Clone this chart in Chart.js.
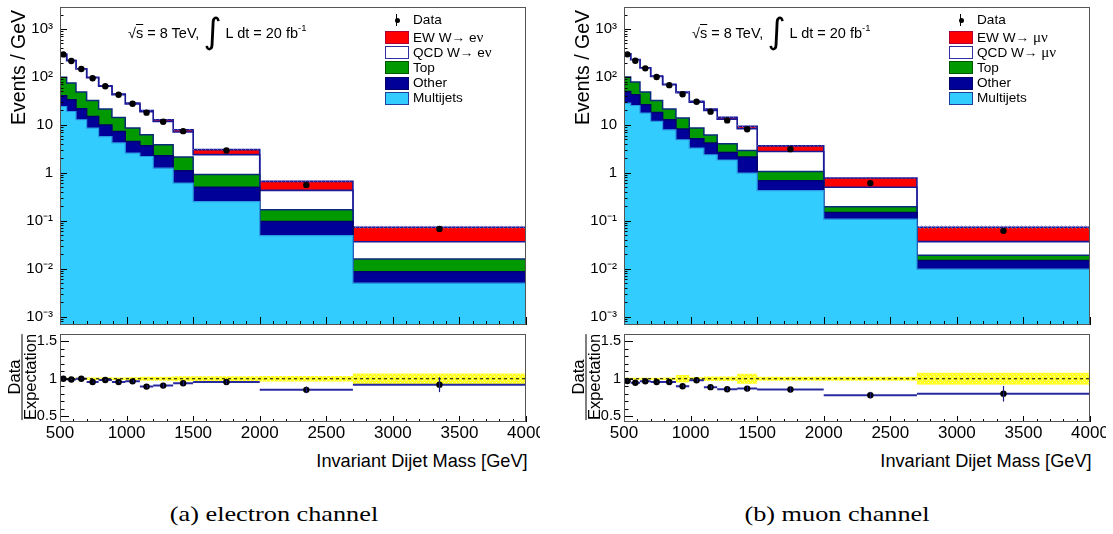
<!DOCTYPE html>
<html>
<head>
<meta charset="utf-8">
<script src="https://cdn.jsdelivr.net/npm/chart.js@4.4.1/dist/chart.umd.min.js"></script>
<style>
html,body{margin:0;padding:0;background:#fff;}
body{width:1113px;height:534px;position:relative;overflow:hidden;font-family:"Liberation Sans",Arial,Helvetica,sans-serif;color:#000;}
canvas{position:absolute;left:0;top:0;}
.abs{position:absolute;white-space:nowrap;}
.clip{position:absolute;overflow:hidden;}
</style>
</head>
<body>
<canvas id="eMain" width="560" height="330" style="left:0;top:0"></canvas>
<canvas id="mMain" width="553" height="330" style="left:560px;top:0"></canvas>
<div class="clip" style="left:0;top:330px;width:540px;height:120px"><canvas id="eRatio" width="560" height="120"></canvas></div>
<div class="clip" style="left:560px;top:330px;width:546px;height:120px"><canvas id="mRatio" width="553" height="120"></canvas></div>
<script>
// ---------------- data ----------------
const binEdges   = [500,550,620,700,790,890,990,1100,1200,1350,1500,2000,2700,4000];
const binCenters = [525,585,660,745,840,940,1045,1150,1275,1425,1750,2350,3350];

const xTickValues = [500,1000,1500,2000,2500,3000,3500,4000];
const xTickLabels = ['500','1000','1500','2000','2500','3000','3500','4000'];
const yTickValues = [0.001,0.01,0.1,1,10,100,1000];
const yTickLabels = ['10\u207B\u00B3','10\u207B\u00B2','10\u207B\u00B9','1','10','10\u00B2','10\u00B3'];
const ratioTickValues = [0.5,1,1.5];
const ratioTickLabels = ['0.5','1','1.5'];

// electron channel (events / GeV per bin)
const eMultijets = [24.2,19,12.8,8.6,5.7,4.2,2.58,2.19,1.25,0.61,0.25,0.049,0.005];
const eOther     = [16.3,14.4,8.9,6.4,4.3,3.1,1.92,1.47,1.01,0.49,0.25,0.047,0.0036];
const eTop       = [57.5,41.2,26.7,17.4,11.4,7.0,4.1,2.54,1.59,1.03,0.42,0.073,0.0074];
const eQCD       = [198,144,97.6,63.6,42.6,28.4,18.7,12.6,7.95,4.97,1.48,0.261,0.0205];
const eEW        = [2,2,2,2,1.5,1.3,1.2,1.2,1.0,0.8,0.65,0.233,0.037];
const eData      = [295,215,146,94,64,42.5,27.5,18,11.6,7.4,2.92,0.56,0.0677];
const eRatio     = [1.0,0.99,1.0,0.956,0.983,0.956,0.965,0.895,0.908,0.939,0.956,0.851,0.921];
const eRatioErr  = [0.006,0.007,0.008,0.01,0.012,0.014,0.017,0.02,0.024,0.03,0.03,0.045,0.1];
const eBand      = [0.013,0.013,0.013,0.018,0.018,0.018,0.02,0.026,0.026,0.033,0.033,0.037,0.07];

// muon channel
const mMultijets = [28.5,25.4,17.6,11.8,7.9,4.9,3.28,2.38,1.85,0.99,0.427,0.108,0.0098];
const mOther     = [21.3,17.1,8.7,6.4,4.9,3.3,1.85,1.79,0.8,1.14,0.253,0.040,0.005];
const mTop       = [50.2,35.8,22.1,14.2,8.6,5.7,3.45,2.0,1.38,0.8,0.38,0.047,0.0042];
const mQCD       = [203,149.7,105.6,69.6,47.5,33.2,21.1,13.8,9.17,5.37,1.73,0.305,0.0178];
const mEW        = [2,2,2,2,1.6,1.4,1.3,1.3,1.2,1.0,0.86,0.28,0.0367];
const mData      = [296,218,151,99.4,67.4,43.7,30.3,18.9,12.4,8.1,3.12,0.61,0.0616];
const mRatio     = [0.97,0.947,0.966,0.956,0.956,0.9,0.979,0.887,0.86,0.868,0.855,0.78,0.8];
const mRatioErr  = [0.006,0.007,0.008,0.01,0.012,0.014,0.017,0.02,0.024,0.03,0.03,0.045,0.105];
const mBand      = [0.013,0.013,0.013,0.013,0.018,0.05,0.02,0.03,0.03,0.066,0.026,0.026,0.08];

const eLegend = ['Data','EW W\u2192 e<span class="g">\u03BD</span>','QCD W\u2192 e<span class="g">\u03BD</span>','Top','Other','Multijets'];
const mLegend = ['Data','EW W\u2192 <span class="g">\u03BC\u03BD</span>','QCD W\u2192 <span class="g">\u03BC\u03BD</span>','Top','Other','Multijets'];
const captions = ['(a) electron channel','(b) muon channel'];

// ---------------- styles ----------------
const stackStyle = [
  {label:'Multijets', bg:'#33ccff', bc:'#2a9be0', bw:1.2, lb:'#2040a0'},
  {label:'Other',     bg:'#000099', bc:'#00006e', bw:1.5, lb:'#000066'},
  {label:'Top',       bg:'#009900', bc:'#0a2a7a', bw:1.5, lb:'#005500'},
  {label:'QCD',       bg:'#ffffff', bc:'#1a1a99', bw:1.6, lb:'#3030a0'},
  {label:'EW',        bg:'#ff0000', bc:'#1a1a99', bw:1.6, lb:'#b00030'}
];
Chart.defaults.font.family = '"Liberation Sans", Arial, sans-serif';

function makePattern(bg, fg, cells, size){
  const c = document.createElement('canvas'); c.width = c.height = size;
  const g = c.getContext('2d');
  if (bg){ g.fillStyle = bg; g.fillRect(0,0,size,size); }
  g.fillStyle = fg; cells.forEach(([x,y]) => g.fillRect(x,y,1,1));
  return g.createPattern(c,'repeat');
}
const yellowPat = makePattern('#ffff22','#ffffb0',[[0,0],[2,2]],4);
const hatchPat  = makePattern(null,'rgba(120,110,190,0.9)',[[0,0],[1,1],[2,2],[3,3]],4);

function levelsFrom(comps){
  const out = []; let acc = comps[0].map(() => 0);
  comps.forEach(c => { acc = acc.map((v,i) => v + c[i]); out.push(acc.slice()); });
  return out;
}
function stepPts(vals){ return binEdges.map((e,i) => ({x:e, y: vals[Math.min(i, vals.length-1)]})); }
function noPad(s){ s.paddingTop = 0; s.paddingBottom = 0; s.paddingLeft = 0; s.paddingRight = 0; }

// ---------------- plugins ----------------
const rootFrame = {
  id:'rootFrame',
  afterDatasetsDraw(chart, args, o){
    const {ctx, chartArea:a} = chart; const xs = chart.scales.x, ys = chart.scales.y;
    ctx.save(); ctx.strokeStyle = '#000'; ctx.lineWidth = 1; ctx.beginPath();
    for (let v = 500; v <= 4000; v += 100){
      const px = Math.round(xs.getPixelForValue(v)) + 0.5;
      const len = (v % 500 === 0) ? o.xMaj : o.xMin;
      ctx.moveTo(px, a.bottom); ctx.lineTo(px, a.bottom - len);
    }
    if (o.log){
      for (let d = -4; d <= 4; d++) for (let k = 1; k <= 9; k++){
        const v = k * Math.pow(10, d); if (v < ys.min || v > ys.max) continue;
        const py = Math.round(ys.getPixelForValue(v)) + 0.5;
        ctx.moveTo(a.left, py); ctx.lineTo(a.left + (k === 1 ? o.yMaj : o.yMin), py);
      }
    } else {
      for (let i = 5; i <= 16; i++){
        const v = i / 10; const py = Math.round(ys.getPixelForValue(v)) + 0.5;
        ctx.moveTo(a.left, py); ctx.lineTo(a.left + (i % 5 === 0 ? o.yMaj : o.yMin), py);
      }
    }
    ctx.stroke();
    ctx.strokeStyle = '#555';
    ctx.strokeRect(Math.round(a.left)+0.5, Math.round(a.top)+0.5, Math.round(a.right-a.left)-1, Math.round(a.bottom-a.top)-1);
    ctx.restore();
  }
};
const errorBars = {
  id:'errorBars',
  afterDatasetsDraw(chart){
    const {ctx, chartArea:a} = chart; const ys = chart.scales.y;
    ctx.save(); ctx.beginPath(); ctx.rect(a.left, a.top, a.right-a.left, a.bottom-a.top); ctx.clip();
    chart.data.datasets.forEach((ds, di) => {
      if (!ds.errorBars) return;
      const meta = chart.getDatasetMeta(di);
      meta.data.forEach((pt, i) => {
        const v = ds.data[i].y, e = ds.errorBars[i];
        const y1 = ys.getPixelForValue(v + e), y2 = ys.getPixelForValue(Math.max(v - e, ys.min));
        const x = Math.round(pt.x) + 0.5;
        ctx.strokeStyle = ds.errorColor || '#000'; ctx.lineWidth = 1.2;
        ctx.beginPath(); ctx.moveTo(x, y1); ctx.lineTo(x, y2); ctx.stroke();
      });
    });
    ctx.restore();
  }
};

// ---------------- builders ----------------
function buildMain(id, ch, yw, padRight){
  const comps = [ch.multijets, ch.other, ch.top, ch.qcd, ch.ew];
  const lv = levelsFrom(comps); const total = lv[4];
  const hi = total.map((v,i) => v * (1 + ch.band[i])), lo = total.map((v,i) => v * (1 - ch.band[i]));
  const dErr = ch.data.map((v,i) => v * ch.ratioErr[i] / ch.ratio[i]);
  const datasets = [
    {label:'Data', data: binCenters.map((x,i) => ({x, y: ch.data[i]})), showLine:false,
     pointRadius:3.2, pointBackgroundColor:'#000', pointBorderWidth:0, errorBars: dErr},
    {label:'bandHi', data: stepPts(hi), stepped:true, borderColor:'rgba(0,0,0,0)', borderWidth:1,
     pointRadius:0, fill:'+1', backgroundColor: hatchPat},
    {label:'bandLo', data: stepPts(lo), stepped:true, borderColor:'rgba(0,0,0,0)', borderWidth:1,
     pointRadius:0, fill:false}
  ];
  stackStyle.forEach((s, k) => {
    datasets.push({label:s.label, data: stepPts(lv[k]), stepped:true, fill:'start',
      backgroundColor:s.bg, borderColor:s.bc, borderWidth:s.bw, pointRadius:0});
  });
  return new Chart(document.getElementById(id), {
    type:'line', data:{datasets}, plugins:[rootFrame, errorBars],
    options:{
      responsive:false, animation:false, events:[],
      layout:{padding:{top:7, right:padRight, bottom:5, left:0}},
      plugins:{legend:{display:false}, tooltip:{enabled:false},
               rootFrame:{log:true, xMaj:8, xMin:4, yMaj:7, yMin:3.5}},
      scales:{
        x:{type:'linear', min:500, max:4000, display:false},
        y:{type:'logarithmic', min:6.7e-4, max:2876,
           afterBuildTicks: s => { s.ticks = yTickValues.map(v => ({value:v})); },
           afterFit: s => { s.width = yw; noPad(s); },
           ticks:{callback:(v,i) => yTickLabels[i], color:'#000', font:{size:15}, padding:7},
           grid:{display:false, drawTicks:false}, border:{display:false}}
      }
    }
  });
}

function buildRatio(id, ch, yw, padRight){
  const segs = [];
  ch.ratio.forEach((r,i) => { segs.push({x:binEdges[i], y:r}, {x:binEdges[i+1], y:r}, {x:binEdges[i+1], y:null}); });
  const datasets = [
    {label:'ratio', data: binCenters.map((x,i) => ({x, y: ch.ratio[i]})), showLine:false,
     pointRadius:3.2, pointBackgroundColor:'#000', pointBorderWidth:0, errorBars: ch.ratioErr, errorColor:'#1a1a80'},
    {label:'one', data:[{x:500,y:1},{x:4000,y:1}], borderColor:'#000', borderWidth:1, borderDash:[3,3], pointRadius:0},
    {label:'ratioHist', data: segs, borderColor:'#2a2aa0', borderWidth:2, pointRadius:0, spanGaps:false},
    {label:'bandHi', data: stepPts(ch.band.map(b => 1 + b)), stepped:true, borderColor:'rgba(0,0,0,0)', borderWidth:1,
     pointRadius:0, fill:'+1', backgroundColor: yellowPat},
    {label:'bandLo', data: stepPts(ch.band.map(b => 1 - b)), stepped:true, borderColor:'rgba(0,0,0,0)', borderWidth:1,
     pointRadius:0, fill:false}
  ];
  return new Chart(document.getElementById(id), {
    type:'line', data:{datasets}, plugins:[rootFrame, errorBars],
    options:{
      responsive:false, animation:false, events:[],
      layout:{padding:{top:3, right:padRight, bottom:0, left:0}},
      plugins:{legend:{display:false}, tooltip:{enabled:false},
               rootFrame:{log:false, xMaj:6, xMin:3, yMaj:9, yMin:4.5}},
      scales:{
        x:{type:'linear', min:500, max:4000, bounds:'data',
           afterBuildTicks: s => { s.ticks = xTickValues.map(v => ({value:v})); },
           afterFit: s => { s.height = 28; noPad(s); },
           ticks:{callback:(v,i) => xTickLabels[i], color:'#000', font:{size:17}, padding:1, maxRotation:0, autoSkip:false},
           grid:{display:false, drawTicks:false}, border:{display:false}},
        y:{type:'linear', min:0.42, max:1.6, bounds:'data',
           afterBuildTicks: s => { s.ticks = ratioTickValues.map(v => ({value:v})); },
           afterFit: s => { s.width = yw; noPad(s); },
           ticks:{callback:(v,i) => ratioTickLabels[i], color:'#000', font:{size:14.5}, padding:3},
           grid:{display:false, drawTicks:false}, border:{display:false}}
      }
    }
  });
}

const electron = {multijets:eMultijets, other:eOther, top:eTop, qcd:eQCD, ew:eEW, data:eData, ratio:eRatio, ratioErr:eRatioErr, band:eBand};
const muon     = {multijets:mMultijets, other:mOther, top:mTop, qcd:mQCD, ew:mEW, data:mData, ratio:mRatio, ratioErr:mRatioErr, band:mBand};

buildMain('eMain', electron, 60, 34);
buildMain('mMain', muon, 64, 23);
buildRatio('eRatio', electron, 60, 34);
buildRatio('mRatio', muon, 64, 23);

// ---------------- text overlays ----------------
function addDiv(html, css){
  const d = document.createElement('div'); d.className = 'abs'; d.innerHTML = html;
  d.style.cssText += css; document.body.appendChild(d); return d;
}
const st = document.createElement('style');
st.textContent = '.g{font-family:"Liberation Serif","Times New Roman",serif;font-size:15px;}';
document.head.appendChild(st);

[[0, eLegend, captions[0], 273.6], [564, mLegend, captions[1], 836.6]].forEach(([ox, leg, cap, capX]) => {
  addDiv('Events / GeV', `left:${8+ox}px;top:210px;width:200px;text-align:right;font-size:19.5px;line-height:20px;transform:rotate(-90deg);transform-origin:0 0;`);
  addDiv('<div style="border-bottom:1px solid #000;text-align:center;line-height:15px;height:15px">Data</div><div style="line-height:15px;height:15px">Expectation</div>',
         `left:${22+ox}px;top:377px;font-size:16.5px;transform:translate(-50%,-50%) rotate(-90deg);`);
  addDiv('Invariant Dijet Mass [GeV]', `left:${227.6+ox}px;top:451px;width:300px;text-align:right;font-size:18.2px;line-height:21px;`);
  addDiv('\u221A<span style="text-decoration:overline">s</span> = 8 TeV, <span style="font-family:\'DejaVu Sans\';font-size:35px;line-height:0;position:relative;top:5px">\u222B</span> L dt = 20 fb<span style="font-size:9.5px;position:relative;top:-7px">-1</span>',
         `left:${128+ox}px;top:25px;font-size:14.5px;line-height:17px;`);
  const bx = 385 + ox, ys = [20, 37.3, 52.4, 67.6, 82.8, 98];
  addDiv('', `left:${bx+11.2}px;top:14px;width:1.3px;height:12px;background:#000;`);
  addDiv('', `left:${bx+9.5}px;top:17.5px;width:5px;height:5px;border-radius:50%;background:#000;`);
  stackStyle.slice().reverse().forEach((s, k) => {
    const y = ys[k+1];
    addDiv('', `left:${bx}px;top:${y-6.3}px;width:22px;height:11px;background:${s.bg};border:1px solid ${s.lb};`);
  });
  leg.forEach((t, k) => {
    addDiv(t, `left:${bx+28}px;top:${ys[k]-8}px;font-size:13.6px;line-height:16px;`);
  });
  addDiv(cap, `left:${capX-200}px;top:502px;width:400px;text-align:center;font-family:"Liberation Serif","Times New Roman",serif;font-size:21px;line-height:24px;transform:scaleX(1.25);`);
});
</script>
</body>
</html>
